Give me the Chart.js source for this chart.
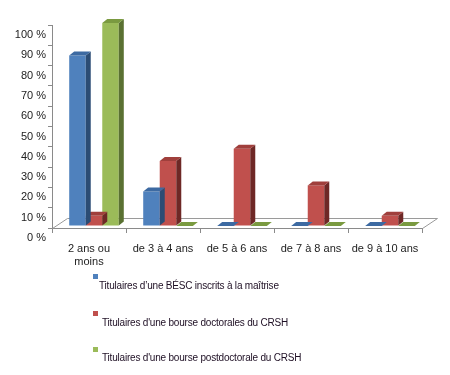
<!DOCTYPE html>
<html>
<head>
<meta charset="utf-8">
<script src="https://cdn.jsdelivr.net/npm/chart.js@4/dist/chart.umd.min.js"></script>
<style>
  html, body { margin: 0; padding: 0; background: #fff; }
  #wrap { position: relative; width: 450px; height: 375px; }
  #legend { position: absolute; left: 0; top: 0; font-family: 'Liberation Sans', Arial, sans-serif; font-size: 10px; letter-spacing: -0.2px; color: #1e0f24; }
  .item { position: absolute; white-space: nowrap; }
  .box { position: absolute; width: 5px; height: 5px; }
  .txt { position: absolute; line-height: 12px; }
</style>
</head>
<body>
<div id="wrap">
  <canvas id="chart" width="450" height="375"></canvas>
  <div id="legend"></div>
</div>
<script>
// categories and series (percent)
let categories = [['2 ans ou', 'moins'], 'de 3 à 4 ans', 'de 5 à 6 ans', 'de 7 à 8 ans', 'de 9 à 10 ans'];
let seriesNames = [
    "Titulaires d’une BÉSC inscrits à la maîtrise",
    "Titulaires d'une bourse doctorales du CRSH",
    "Titulaires d'une bourse postdoctorale du CRSH"
];
let besc = [84, 17, 0, 0, 0];
let doctorales = [5, 32, 38, 20, 5];
let postdoc = [100, 0, 0, 0, 0];
let yTicks = [0, 10, 20, 30, 40, 50, 60, 70, 80, 90, 100];

// front / side / top shades for each series
let shades = [
    { front: '#4F81BD', side: '#2B4C74', top: '#3D6AA2' },
    { front: '#C0504D', side: '#6E2826', top: '#A03F3C' },
    { front: '#9BBB59', side: '#5A7132', top: '#7A9A40' }
];

const DX = 5, DY = -4;          // bar depth
const FLOOR_DX = 15, FLOOR_DY = -10;

// floor + fake 3d faces
const threeD = {
    id: 'threeD',
    beforeDatasetsDraw(chart) {
        const ctx = chart.ctx, a = chart.chartArea;
        ctx.save();
        ctx.strokeStyle = '#9a9a9a';
        ctx.lineWidth = 1;
        ctx.beginPath();
        ctx.moveTo(a.left + 0.5, a.bottom + 0.5);
        ctx.lineTo(a.left + FLOOR_DX + 0.5, a.bottom + FLOOR_DY + 0.5);
        ctx.lineTo(a.right + FLOOR_DX + 0.5, a.bottom + FLOOR_DY + 0.5);
        ctx.lineTo(a.right + 0.5, a.bottom + 0.5);
        ctx.stroke();
        ctx.restore();
        // push the bars a bit into the floor
        ctx.save();
        ctx.translate(5, -2);
    },
    afterDatasetDraw(chart, args) {
        const ctx = chart.ctx;
        const s = shades[args.index];
        args.meta.data.forEach(bar => {
            const left = bar.x - bar.width / 2, right = bar.x + bar.width / 2;
            const top = bar.y, base = bar.base;
            // side face
            ctx.fillStyle = s.side;
            ctx.beginPath();
            ctx.moveTo(right, base);
            ctx.lineTo(right + DX, base + DY);
            ctx.lineTo(right + DX, top + DY);
            ctx.lineTo(right, top);
            ctx.closePath();
            ctx.fill();
            // top face
            ctx.fillStyle = s.top;
            ctx.beginPath();
            ctx.moveTo(left, top);
            ctx.lineTo(left + DX, top + DY);
            ctx.lineTo(right + DX, top + DY);
            ctx.lineTo(right, top);
            ctx.closePath();
            ctx.fill();
        });
    },
    afterDatasetsDraw(chart) {
        chart.ctx.restore();
    }
};

Chart.defaults.font.family = "'Liberation Sans', Arial, sans-serif";
Chart.defaults.font.size = 11;
Chart.defaults.color = '#222';

let ctx = document.getElementById('chart').getContext('2d');
let chart = new Chart(ctx, {
    type: 'bar',
    data: {
        labels: categories,
        datasets: [besc, doctorales, postdoc].map((vals, i) => ({
            label: seriesNames[i],
            data: vals,
            backgroundColor: shades[i].front,
            borderWidth: 0,
            clip: false,
            barPercentage: 1,
            categoryPercentage: 0.67
        }))
    },
    options: {
        responsive: false,
        animation: false,
        layout: { padding: { top: 25, right: 28, left: 0, bottom: 0 } },
        plugins: {
            legend: { display: false },
            tooltip: { enabled: false }
        },
        scales: {
            x: {
                afterFit(scale) { scale.height = 147; },
                grid: { drawOnChartArea: false, tickLength: 5, color: '#8a8a8a' },
                border: { color: '#8a8a8a' },
                ticks: { padding: 9, maxRotation: 0, autoSkip: false }
            },
            y: {
                min: 0,
                max: 100,
                afterFit(scale) { scale.width = 52; },
                afterBuildTicks(scale) { scale.ticks = yTicks.map(v => ({ value: v })); },
                grid: { drawOnChartArea: false, tickLength: 4, color: '#8a8a8a' },
                border: { color: '#8a8a8a' },
                ticks: {
                    padding: 2,
                    labelOffset: 10,
                    callback: v => v + ' %'
                }
            }
        }
    },
    plugins: [threeD]
});

// legend, laid out like the original (marker above-left of text)
let legendPos = [
    { box: [93, 274], txt: [99, 280] },
    { box: [93, 311], txt: [102, 317] },
    { box: [93, 347], txt: [102, 352] }
];
let legend = document.getElementById('legend');
seriesNames.forEach((name, i) => {
    let p = legendPos[i];
    let box = document.createElement('div');
    box.className = 'box';
    box.style.left = p.box[0] + 'px';
    box.style.top = p.box[1] + 'px';
    box.style.background = shades[i].front;
    let txt = document.createElement('div');
    txt.className = 'txt item';
    txt.style.left = p.txt[0] + 'px';
    txt.style.top = p.txt[1] + 'px';
    txt.textContent = name;
    legend.appendChild(box);
    legend.appendChild(txt);
});
</script>
</body>
</html>
